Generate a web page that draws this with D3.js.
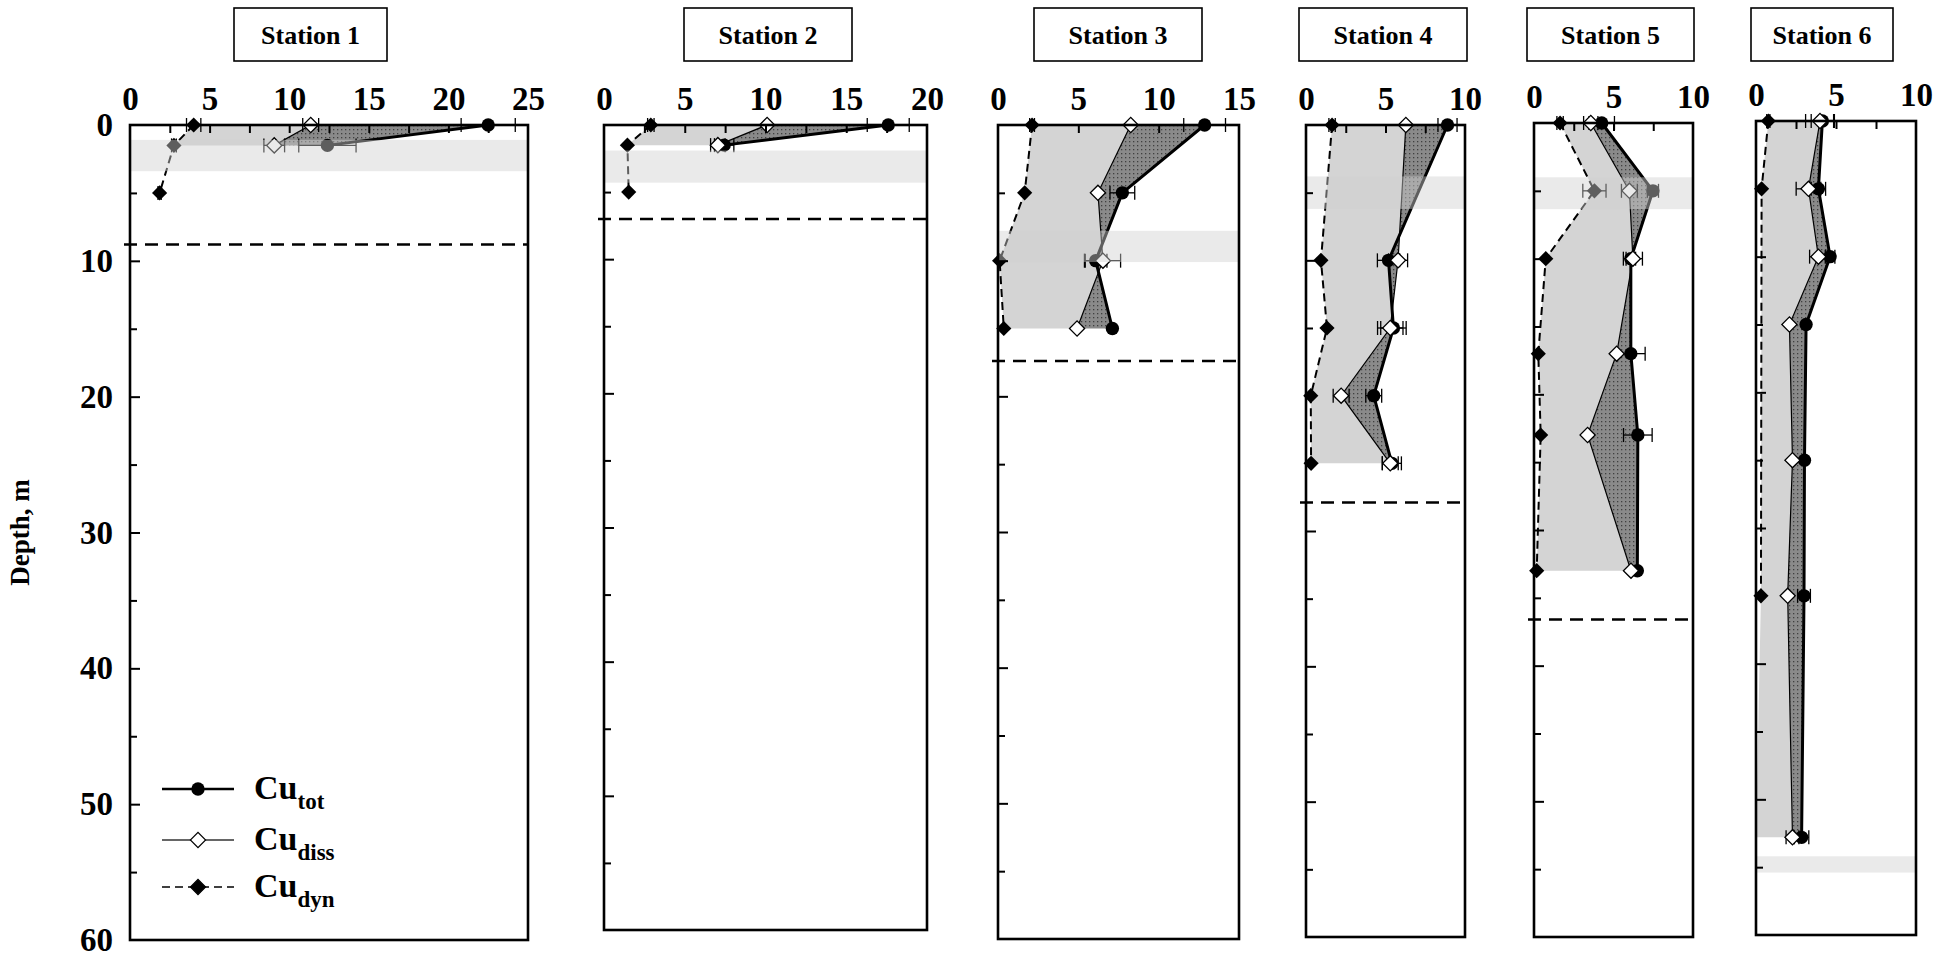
<!DOCTYPE html>
<html>
<head>
<meta charset="utf-8">
<script src="https://cdn.jsdelivr.net/npm/d3@7"></script>
<style>
  body { margin: 0; background: #fff; }
  svg text { font-family: "Liberation Serif", "Times New Roman", serif; font-weight: bold; fill: #000; }
</style>
</head>
<body>
<svg id="chart" width="1959" height="960"></svg>
<script>
// ---------- data ----------
const categories = ["Station 1", "Station 2", "Station 3", "Station 4", "Station 5", "Station 6"];
const concMax = [25, 20, 15, 10, 10, 10];
const depthTickLabels = [0, 10, 20, 30, 40, 50, 60];
const thermoclineDepth = [8.8, 7.0, 17.4, 27.9, 36.6, null];
const bandTop = [1.1, 1.9, 7.8, 3.8, 4.0, 54.2];
const bandBottom = [3.4, 4.3, 10.1, 6.2, 6.35, 55.4];

// Station 1
const depthS1 = [0, 1.5];
const totS1 = [22.5, 12.4];
const totErrS1 = [1.7, 1.8];
const dissS1 = [11.35, 9.06];
const dissErrS1 = [0.5, 0.65];
const dynDepthS1 = [0, 1.5, 5];
const dynS1 = [4.0, 2.76, 1.86];
const dynErrS1 = [0.45, 0.15, 0.1];

// Station 2
const depthS2 = [0, 1.5];
const totS2 = [17.6, 7.44];
const totErrS2 = [1.3, 0.6];
const dissS2 = [10.1, 7.05];
const dissErrS2 = [0, 0.45];
const dynDepthS2 = [0, 1.5, 5];
const dynS2 = [2.9, 1.45, 1.53];
const dynErrS2 = [0.2, 0, 0];

// Station 3
const depthS3 = [0, 5, 10, 15];
const totS3 = [12.86, 7.74, 6.08, 7.12];
const totErrS3 = [1.3, 0.77, 0.7, 0];
const dissS3 = [8.26, 6.22, 6.53, 4.92];
const dissErrS3 = [0, 0, 1.1, 0];
const dynDepthS3 = [0, 5, 10, 15];
const dynS3 = [2.12, 1.66, 0.1, 0.36];
const dynErrS3 = [0.15, 0, 0, 0];

// Station 4
const depthS4 = [0, 10, 15, 20, 25];
const totS4 = [8.9, 5.19, 5.5, 4.26, 5.4];
const totErrS4 = [0.6, 0.7, 0.8, 0.5, 0.6];
const dissS4 = [6.28, 5.79, 5.3, 2.21, 5.3];
const dissErrS4 = [0, 0.6, 0.8, 0.5, 0.5];
const dynDepthS4 = [0, 10, 15, 20, 25];
const dynS4 = [1.64, 0.94, 1.32, 0.3, 0.32];
const dynErrS4 = [0.2, 0, 0, 0, 0];

// Station 5
const depthS5 = [0, 5, 10, 17, 23, 33];
const totS5 = [4.26, 7.48, 6.09, 6.09, 6.53, 6.5];
const totErrS5 = [0.8, 0.35, 0.3, 0.9, 0.9, 0];
const dissS5 = [3.57, 6.0, 6.22, 5.2, 3.37, 6.1];
const dissErrS5 = [0.45, 0.5, 0.6, 0, 0, 0];
const dynDepthS5 = [0, 5, 10, 17, 23, 33];
const dynS5 = [1.64, 3.8, 0.74, 0.27, 0.42, 0.17];
const dynErrS5 = [0.2, 0.73, 0, 0, 0, 0];

// Station 6
const depthS6 = [0, 5, 10, 15, 25, 35, 52.8];
const totS6 = [4.15, 3.9, 4.63, 3.13, 3.03, 3.0, 2.85];
const totErrS6 = [0.7, 0.45, 0.3, 0, 0, 0.4, 0.45];
const dissS6 = [4.0, 3.28, 3.9, 2.09, 2.28, 1.98, 2.28];
const dissErrS6 = [0.9, 0.77, 0.55, 0, 0, 0, 0.4];
const dynDepthS6 = [0, 5, 35];
const dynS6 = [0.77, 0.35, 0.31];
const dynErrS6 = [0.1, 0, 0];

const stations = [
  { depth: depthS1, tot: totS1, totErr: totErrS1, diss: dissS1, dissErr: dissErrS1, dynDepth: dynDepthS1, dyn: dynS1, dynErr: dynErrS1 },
  { depth: depthS2, tot: totS2, totErr: totErrS2, diss: dissS2, dissErr: dissErrS2, dynDepth: dynDepthS2, dyn: dynS2, dynErr: dynErrS2 },
  { depth: depthS3, tot: totS3, totErr: totErrS3, diss: dissS3, dissErr: dissErrS3, dynDepth: dynDepthS3, dyn: dynS3, dynErr: dynErrS3 },
  { depth: depthS4, tot: totS4, totErr: totErrS4, diss: dissS4, dissErr: dissErrS4, dynDepth: dynDepthS4, dyn: dynS4, dynErr: dynErrS4 },
  { depth: depthS5, tot: totS5, totErr: totErrS5, diss: dissS5, dissErr: dissErrS5, dynDepth: dynDepthS5, dyn: dynS5, dynErr: dynErrS5 },
  { depth: depthS6, tot: totS6, totErr: totErrS6, diss: dissS6, dissErr: dissErrS6, dynDepth: dynDepthS6, dyn: dynS6, dynErr: dynErrS6 }
];

// ---------- layout ----------
const panels = [
  { x0: 130,  x1: 528,  top: 125, bottom: 940, boxX0: 234,  boxX1: 387,  minorStep: 2.5 },
  { x0: 604,  x1: 927,  top: 125, bottom: 930, boxX0: 684,  boxX1: 852,  minorStep: 2.5 },
  { x0: 998,  x1: 1239, top: 125, bottom: 939, boxX0: 1034, boxX1: 1202, minorStep: 5 },
  { x0: 1306, x1: 1465, top: 125, bottom: 937, boxX0: 1299, boxX1: 1467, minorStep: 2.5 },
  { x0: 1534, x1: 1693, top: 123, bottom: 937, boxX0: 1527, boxX1: 1694, minorStep: 2.5 },
  { x0: 1756, x1: 1916, top: 121, bottom: 935, boxX0: 1751, boxX1: 1893, minorStep: 2.5 }
];
const boxY0 = 8, boxY1 = 61;

const svg = d3.select("#chart");
const defs = svg.append("defs");
const pat = defs.append("pattern")
  .attr("id", "dotted").attr("width", 4).attr("height", 4)
  .attr("patternUnits", "userSpaceOnUse");
pat.append("rect").attr("width", 4).attr("height", 4).attr("fill", "#8a8a8a");
pat.append("rect").attr("x", 1).attr("y", 1).attr("width", 1.3).attr("height", 1.3).attr("fill", "#404040");

const circleSym = d3.symbol(d3.symbolCircle, 140);
const squareSym = d3.symbol(d3.symbolSquare, 115);

stations.forEach((st, i) => {
  const p = panels[i];
  const x = d3.scaleLinear().domain([0, concMax[i]]).range([p.x0, p.x1]);
  const y = d3.scaleLinear().domain([0, 60]).range([p.top, p.bottom]);
  const g = svg.append("g").attr("class", "panel");

  // dyn profile as a function of depth; zero beyond the sampled range
  const dynAt = d => {
    if (d < st.dynDepth[0] || d > st.dynDepth[st.dynDepth.length - 1]) return 0;
    return d3.scaleLinear().domain(st.dynDepth).range(st.dyn)(d);
  };

  const pts = (vals, deps) => vals.map((v, k) => [x(v), y(deps[k])]);
  const polyLine = d3.line();

  // light fill between dyn and diss
  const leftEdge = st.depth.map(d => [x(dynAt(d)), y(d)]);
  const dissPts = pts(st.diss, st.depth);
  g.append("path")
    .attr("d", polyLine(leftEdge.concat(dissPts.slice().reverse())) + "Z")
    .attr("fill", "#d4d4d4").attr("stroke", "none");

  // dotted fill between diss and tot
  const totPts = pts(st.tot, st.depth);
  g.append("path")
    .attr("d", polyLine(dissPts.concat(totPts.slice().reverse())) + "Z")
    .attr("fill", "url(#dotted)").attr("stroke", "none");

  // profile lines
  const dynPts = pts(st.dyn, st.dynDepth);
  g.append("path").attr("d", polyLine(dynPts))
    .attr("fill", "none").attr("stroke", "#000").attr("stroke-width", 2)
    .attr("stroke-dasharray", "8,5");
  g.append("path").attr("d", polyLine(dissPts))
    .attr("fill", "none").attr("stroke", "#000").attr("stroke-width", 1.2);
  g.append("path").attr("d", polyLine(totPts))
    .attr("fill", "none").attr("stroke", "#000").attr("stroke-width", 3)
    .attr("stroke-linejoin", "round");

  // error bars
  const errBars = (vals, errs, deps) => {
    vals.forEach((v, k) => {
      const e = errs[k];
      if (!e) return;
      const yy = y(deps[k]);
      const a = x(v - e), b = x(v + e);
      g.append("line").attr("x1", a).attr("x2", b).attr("y1", yy).attr("y2", yy)
        .attr("stroke", "#000").attr("stroke-width", 1.3);
      [a, b].forEach(cx => g.append("line")
        .attr("x1", cx).attr("x2", cx).attr("y1", yy - 7).attr("y2", yy + 7)
        .attr("stroke", "#000").attr("stroke-width", 1.3));
    });
  };
  errBars(st.tot, st.totErr, st.depth);
  errBars(st.diss, st.dissErr, st.depth);
  errBars(st.dyn, st.dynErr, st.dynDepth);

  // markers
  g.selectAll(null).data(totPts).join("path")
    .attr("d", circleSym).attr("transform", d => `translate(${d[0]},${d[1]})`)
    .attr("fill", "#000");
  g.selectAll(null).data(dissPts).join("path")
    .attr("d", squareSym).attr("transform", d => `translate(${d[0]},${d[1]}) rotate(45)`)
    .attr("fill", "#fff").attr("stroke", "#000").attr("stroke-width", 1.3);
  g.selectAll(null).data(dynPts).join("path")
    .attr("d", squareSym).attr("transform", d => `translate(${d[0]},${d[1]}) rotate(45)`)
    .attr("fill", "#000");

  // translucent sampling band
  g.append("rect")
    .attr("x", p.x0 + 1).attr("width", p.x1 - p.x0 - 2)
    .attr("y", y(bandTop[i])).attr("height", y(bandBottom[i]) - y(bandTop[i]))
    .attr("fill", "rgb(209,209,209)").attr("fill-opacity", 0.45);

  // mixed-layer boundary
  if (thermoclineDepth[i] !== null) {
    g.append("line")
      .attr("x1", p.x0 - 6).attr("x2", p.x1)
      .attr("y1", y(thermoclineDepth[i])).attr("y2", y(thermoclineDepth[i]))
      .attr("stroke", "#000").attr("stroke-width", 2.5).attr("stroke-dasharray", "13,8");
  }

  // top axis: inward ticks, labels every 5
  const minorVals = d3.range(0, concMax[i] + 1e-9, p.minorStep);
  const topAxis = d3.axisTop(x).tickValues(minorVals).tickSize(-8).tickPadding(15)
    .tickFormat(v => (v % 5 === 0 ? d3.format("d")(v) : ""));
  const ta = g.append("g").attr("transform", `translate(0,${p.top})`).call(topAxis);
  ta.select(".domain").remove();
  ta.selectAll(".tick line").attr("stroke", "#000").attr("stroke-width", 2);
  ta.selectAll(".tick text").attr("font-size", 33)
    .style("font-family", "'Liberation Serif', serif").style("font-weight", "bold");
  ta.selectAll(".tick").filter(v => v === 0 || v === concMax[i]).select("line").remove();

  // left axis: inward ticks, longer every 10 m
  const majorAxis = d3.axisLeft(y).tickValues(d3.range(10, 60, 10)).tickSize(-10).tickFormat("");
  const minorAxis = d3.axisLeft(y).tickValues(d3.range(5, 60, 10)).tickSize(-7).tickFormat("");
  [majorAxis, minorAxis].forEach(ax => {
    const la = g.append("g").attr("transform", `translate(${p.x0},0)`).call(ax);
    la.select(".domain").remove();
    la.selectAll(".tick line").attr("stroke", "#000").attr("stroke-width", 2);
  });

  // frame
  g.append("rect")
    .attr("x", p.x0).attr("y", p.top).attr("width", p.x1 - p.x0).attr("height", p.bottom - p.top)
    .attr("fill", "none").attr("stroke", "#000").attr("stroke-width", 2.6);

  // station title box
  svg.append("rect")
    .attr("x", p.boxX0).attr("y", boxY0).attr("width", p.boxX1 - p.boxX0).attr("height", boxY1 - boxY0)
    .attr("fill", "#fff").attr("stroke", "#000").attr("stroke-width", 1.6);
  svg.append("text")
    .attr("x", (p.boxX0 + p.boxX1) / 2).attr("y", (boxY0 + boxY1) / 2 + 9)
    .attr("text-anchor", "middle").attr("font-size", 26)
    .text(categories[i]);
});

// depth axis labels (shared, left of Station 1)
const p0 = panels[0];
const yDepth = d3.scaleLinear().domain([0, 60]).range([p0.top, p0.bottom]);
const depthAxis = d3.axisLeft(yDepth).tickValues(depthTickLabels).tickSize(0).tickPadding(17)
  .tickFormat(d3.format("d"));
const da = svg.append("g").attr("transform", `translate(${p0.x0},0)`).call(depthAxis);
da.select(".domain").remove();
da.selectAll(".tick text").attr("font-size", 33)
  .style("font-family", "'Liberation Serif', serif").style("font-weight", "bold");

svg.append("text")
  .attr("transform", `translate(29,${(p0.top + p0.bottom) / 2}) rotate(-90)`)
  .attr("text-anchor", "middle").attr("font-size", 27)
  .text("Depth, m");

// legend
const legendRows = [
  { sub: "tot", kind: "tot" },
  { sub: "diss", kind: "diss" },
  { sub: "dyn", kind: "dyn" }
];
const legY = [789, 840, 887];
const lg = svg.append("g");
legendRows.forEach((r, k) => {
  const yy = legY[k];
  const ln = lg.append("line").attr("x1", 162).attr("x2", 234).attr("y1", yy).attr("y2", yy)
    .attr("stroke", r.kind === "diss" ? "#333" : "#000")
    .attr("stroke-width", r.kind === "tot" ? 2.6 : (r.kind === "diss" ? 1.4 : 1.6));
  if (r.kind === "dyn") ln.attr("stroke-dasharray", "8,5");
  if (r.kind === "tot") {
    lg.append("path").attr("d", circleSym).attr("transform", `translate(198,${yy})`).attr("fill", "#000");
  } else {
    lg.append("path").attr("d", squareSym).attr("transform", `translate(198,${yy}) rotate(45)`)
      .attr("fill", r.kind === "diss" ? "#fff" : "#000")
      .attr("stroke", "#000").attr("stroke-width", 1.2);
  }
  const t = lg.append("text").attr("x", 254).attr("y", yy + 10).attr("font-size", 34);
  t.append("tspan").text("Cu");
  t.append("tspan").attr("font-size", 23).attr("dy", 10).text(r.sub);
});
</script>
</body>
</html>
